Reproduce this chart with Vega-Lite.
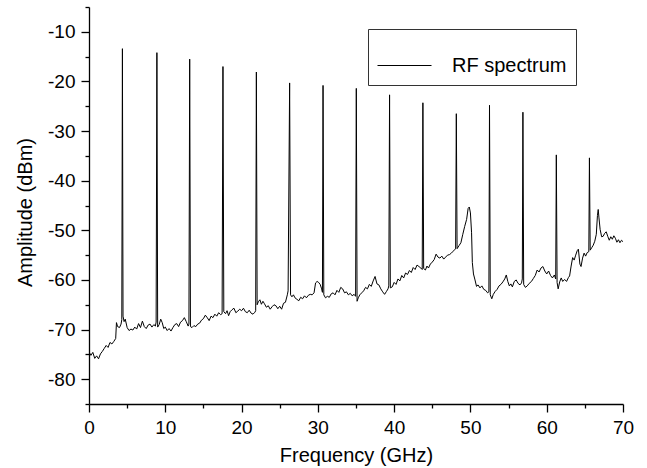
{
  "$schema": "https://vega.github.io/schema/vega-lite/v6.json",
  "width": 534,
  "height": 397,
  "autosize": {"type": "none"},
  "padding": {"left": 89, "top": 7, "right": 24, "bottom": 64},
  "background": "white",
  "config": {
    "view": {"stroke": null},
    "font": "Liberation Sans",
    "axis": {
      "domainColor": "#000",
      "domainWidth": 1.3,
      "tickColor": "#000",
      "tickWidth": 1.3,
      "labelColor": "#000",
      "titleColor": "#000",
      "labelFont": "Liberation Sans",
      "titleFont": "Liberation Sans",
      "labelFontSize": 19,
      "titleFontSize": 20,
      "titleFontWeight": "normal",
      "grid": false
    }
  },
  "data": {
    "values": [
      {"f": 0.0, "a": -74.5}, {"f": 0.25, "a": -75.2}, {"f": 0.5, "a": -74.6}, {"f": 0.75, "a": -75.8}, {"f": 1.0, "a": -75.3},
      {"f": 1.25, "a": -75.9}, {"f": 1.5, "a": -74.9}, {"f": 1.75, "a": -74.4}, {"f": 2.0, "a": -73.8}, {"f": 2.25, "a": -73.2},
      {"f": 2.5, "a": -73.6}, {"f": 2.75, "a": -72.6}, {"f": 3.0, "a": -72.9}, {"f": 3.25, "a": -72.4}, {"f": 3.5, "a": -71.8},
      {"f": 3.6, "a": -68.6}, {"f": 3.75, "a": -69.4}, {"f": 4.0, "a": -69.6}, {"f": 4.2, "a": -68.9}, {"f": 4.3, "a": -68.0},
      {"f": 4.38, "a": -13.4}, {"f": 4.46, "a": -67.3}, {"f": 4.6, "a": -68.4}, {"f": 4.75, "a": -67.9}, {"f": 5.0, "a": -69.6},
      {"f": 5.25, "a": -70.2}, {"f": 5.5, "a": -69.9}, {"f": 5.75, "a": -70.1}, {"f": 6.0, "a": -69.5}, {"f": 6.25, "a": -69.9},
      {"f": 6.5, "a": -68.8}, {"f": 6.75, "a": -69.6}, {"f": 7.0, "a": -68.3}, {"f": 7.25, "a": -69.4}, {"f": 7.5, "a": -69.8},
      {"f": 7.75, "a": -69.1}, {"f": 8.0, "a": -68.9}, {"f": 8.25, "a": -69.5}, {"f": 8.5, "a": -69.0}, {"f": 8.7, "a": -69.3},
      {"f": 8.8, "a": -68.5}, {"f": 8.9, "a": -14.2}, {"f": 9.0, "a": -69.5}, {"f": 9.2, "a": -69.0}, {"f": 9.4, "a": -67.9},
      {"f": 9.6, "a": -68.6}, {"f": 9.8, "a": -69.8}, {"f": 10.0, "a": -69.5}, {"f": 10.25, "a": -70.2}, {"f": 10.5, "a": -69.8},
      {"f": 10.75, "a": -70.3}, {"f": 11.0, "a": -69.6}, {"f": 11.25, "a": -69.0}, {"f": 11.5, "a": -68.8}, {"f": 11.75, "a": -69.4},
      {"f": 12.0, "a": -68.5}, {"f": 12.25, "a": -68.2}, {"f": 12.5, "a": -67.6}, {"f": 12.75, "a": -68.4}, {"f": 13.0, "a": -69.3},
      {"f": 13.1, "a": -68.9}, {"f": 13.2, "a": -15.5}, {"f": 13.3, "a": -69.4}, {"f": 13.5, "a": -69.6}, {"f": 13.75, "a": -69.2},
      {"f": 14.0, "a": -69.4}, {"f": 14.25, "a": -68.9}, {"f": 14.5, "a": -68.7}, {"f": 14.75, "a": -68.1}, {"f": 15.0, "a": -67.8},
      {"f": 15.25, "a": -67.1}, {"f": 15.5, "a": -67.6}, {"f": 15.75, "a": -68.2}, {"f": 16.0, "a": -67.3}, {"f": 16.25, "a": -67.6},
      {"f": 16.5, "a": -66.9}, {"f": 16.75, "a": -67.3}, {"f": 17.0, "a": -66.6}, {"f": 17.25, "a": -67.0}, {"f": 17.45, "a": -66.8},
      {"f": 17.56, "a": -17.0}, {"f": 17.67, "a": -66.4}, {"f": 17.9, "a": -66.8}, {"f": 18.1, "a": -66.2}, {"f": 18.3, "a": -67.2},
      {"f": 18.5, "a": -66.4}, {"f": 18.75, "a": -66.0}, {"f": 19.0, "a": -65.7}, {"f": 19.25, "a": -66.6}, {"f": 19.5, "a": -66.3},
      {"f": 19.75, "a": -65.9}, {"f": 20.0, "a": -66.2}, {"f": 20.25, "a": -65.7}, {"f": 20.5, "a": -66.4}, {"f": 20.75, "a": -66.6},
      {"f": 21.0, "a": -66.1}, {"f": 21.25, "a": -66.7}, {"f": 21.5, "a": -66.9}, {"f": 21.75, "a": -66.5}, {"f": 21.85, "a": -66.2},
      {"f": 21.94, "a": -18.1}, {"f": 22.04, "a": -65.0}, {"f": 22.2, "a": -64.4}, {"f": 22.4, "a": -64.0}, {"f": 22.6, "a": -64.9},
      {"f": 22.8, "a": -64.3}, {"f": 23.0, "a": -64.8}, {"f": 23.25, "a": -65.5}, {"f": 23.5, "a": -65.2}, {"f": 23.75, "a": -65.9},
      {"f": 24.0, "a": -65.4}, {"f": 24.25, "a": -65.0}, {"f": 24.5, "a": -65.2}, {"f": 24.75, "a": -65.8}, {"f": 25.0, "a": -65.3},
      {"f": 25.25, "a": -65.9}, {"f": 25.5, "a": -64.7}, {"f": 25.75, "a": -64.5}, {"f": 26.0, "a": -63.0}, {"f": 26.1, "a": -62.2},
      {"f": 26.3, "a": -20.3}, {"f": 26.42, "a": -63.0}, {"f": 26.6, "a": -63.4}, {"f": 26.8, "a": -63.0}, {"f": 27.0, "a": -63.6},
      {"f": 27.25, "a": -63.9}, {"f": 27.5, "a": -64.2}, {"f": 27.75, "a": -63.5}, {"f": 28.0, "a": -63.8}, {"f": 28.25, "a": -63.2},
      {"f": 28.5, "a": -63.6}, {"f": 28.75, "a": -63.1}, {"f": 29.0, "a": -62.9}, {"f": 29.25, "a": -63.0}, {"f": 29.5, "a": -62.6},
      {"f": 29.7, "a": -60.6}, {"f": 29.9, "a": -60.3}, {"f": 30.1, "a": -60.5}, {"f": 30.3, "a": -60.9}, {"f": 30.5, "a": -61.8},
      {"f": 30.6, "a": -62.5}, {"f": 30.68, "a": -20.8}, {"f": 30.78, "a": -63.0}, {"f": 31.0, "a": -63.6}, {"f": 31.25, "a": -63.3},
      {"f": 31.5, "a": -63.5}, {"f": 31.75, "a": -62.8}, {"f": 32.0, "a": -62.6}, {"f": 32.25, "a": -63.0}, {"f": 32.5, "a": -62.1},
      {"f": 32.75, "a": -62.5}, {"f": 33.0, "a": -61.5}, {"f": 33.25, "a": -61.8}, {"f": 33.5, "a": -62.6}, {"f": 33.75, "a": -62.4},
      {"f": 34.0, "a": -63.0}, {"f": 34.25, "a": -62.7}, {"f": 34.5, "a": -63.2}, {"f": 34.75, "a": -62.9}, {"f": 34.95, "a": -63.3},
      {"f": 35.04, "a": -21.4}, {"f": 35.14, "a": -64.3}, {"f": 35.3, "a": -63.6}, {"f": 35.5, "a": -63.0}, {"f": 35.75, "a": -62.6},
      {"f": 36.0, "a": -62.2}, {"f": 36.25, "a": -61.5}, {"f": 36.5, "a": -61.8}, {"f": 36.75, "a": -60.9}, {"f": 37.0, "a": -61.3},
      {"f": 37.25, "a": -60.2}, {"f": 37.5, "a": -59.3}, {"f": 37.75, "a": -60.8}, {"f": 38.0, "a": -61.0}, {"f": 38.25, "a": -61.8},
      {"f": 38.5, "a": -62.4}, {"f": 38.75, "a": -62.9}, {"f": 39.0, "a": -62.3}, {"f": 39.2, "a": -61.8}, {"f": 39.3, "a": -61.2},
      {"f": 39.4, "a": -22.7}, {"f": 39.5, "a": -61.6}, {"f": 39.75, "a": -61.4}, {"f": 40.0, "a": -60.5}, {"f": 40.25, "a": -60.9},
      {"f": 40.5, "a": -59.8}, {"f": 40.75, "a": -60.2}, {"f": 41.0, "a": -59.1}, {"f": 41.25, "a": -59.6}, {"f": 41.5, "a": -58.6},
      {"f": 41.75, "a": -58.9}, {"f": 42.0, "a": -58.1}, {"f": 42.25, "a": -58.5}, {"f": 42.5, "a": -57.5}, {"f": 42.75, "a": -57.9},
      {"f": 43.0, "a": -57.0}, {"f": 43.25, "a": -57.3}, {"f": 43.5, "a": -57.6}, {"f": 43.68, "a": -57.9}, {"f": 43.77, "a": -24.3},
      {"f": 43.87, "a": -57.7}, {"f": 44.1, "a": -58.0}, {"f": 44.3, "a": -57.2}, {"f": 44.5, "a": -57.6}, {"f": 44.75, "a": -56.8},
      {"f": 45.0, "a": -56.4}, {"f": 45.25, "a": -55.9}, {"f": 45.5, "a": -54.8}, {"f": 45.75, "a": -55.4}, {"f": 46.0, "a": -55.6},
      {"f": 46.25, "a": -55.2}, {"f": 46.5, "a": -55.8}, {"f": 46.75, "a": -55.4}, {"f": 47.0, "a": -55.0}, {"f": 47.25, "a": -54.9},
      {"f": 47.5, "a": -54.6}, {"f": 47.75, "a": -54.2}, {"f": 48.0, "a": -53.8}, {"f": 48.06, "a": -53.6}, {"f": 48.15, "a": -26.5},
      {"f": 48.25, "a": -53.7}, {"f": 48.5, "a": -53.1}, {"f": 48.75, "a": -52.5}, {"f": 49.0, "a": -50.8}, {"f": 49.25, "a": -49.2},
      {"f": 49.5, "a": -47.8}, {"f": 49.7, "a": -45.6}, {"f": 49.85, "a": -45.3}, {"f": 50.0, "a": -46.5}, {"f": 50.15, "a": -50.5},
      {"f": 50.25, "a": -56.5}, {"f": 50.4, "a": -58.8}, {"f": 50.6, "a": -60.0}, {"f": 50.8, "a": -61.3}, {"f": 51.0, "a": -61.0},
      {"f": 51.25, "a": -61.6}, {"f": 51.5, "a": -61.2}, {"f": 51.75, "a": -61.9}, {"f": 52.0, "a": -62.1}, {"f": 52.25, "a": -62.6},
      {"f": 52.42, "a": -62.4}, {"f": 52.5, "a": -24.8}, {"f": 52.6, "a": -63.0}, {"f": 52.8, "a": -63.8}, {"f": 53.0, "a": -62.9},
      {"f": 53.25, "a": -62.3}, {"f": 53.5, "a": -61.9}, {"f": 53.75, "a": -61.2}, {"f": 54.0, "a": -60.9}, {"f": 54.25, "a": -60.4},
      {"f": 54.5, "a": -59.8}, {"f": 54.7, "a": -59.0}, {"f": 54.9, "a": -60.3}, {"f": 55.1, "a": -61.2}, {"f": 55.3, "a": -60.8},
      {"f": 55.5, "a": -61.4}, {"f": 55.75, "a": -60.3}, {"f": 56.0, "a": -60.0}, {"f": 56.25, "a": -60.7}, {"f": 56.5, "a": -61.0},
      {"f": 56.7, "a": -60.6}, {"f": 56.8, "a": -59.8}, {"f": 56.88, "a": -26.2}, {"f": 56.98, "a": -60.9}, {"f": 57.2, "a": -61.5},
      {"f": 57.45, "a": -61.2}, {"f": 57.7, "a": -60.7}, {"f": 58.0, "a": -60.3}, {"f": 58.25, "a": -59.7}, {"f": 58.5, "a": -59.1},
      {"f": 58.75, "a": -58.0}, {"f": 59.0, "a": -58.4}, {"f": 59.25, "a": -57.6}, {"f": 59.5, "a": -57.3}, {"f": 59.75, "a": -58.2},
      {"f": 60.0, "a": -58.8}, {"f": 60.25, "a": -58.2}, {"f": 60.5, "a": -59.1}, {"f": 60.75, "a": -59.6}, {"f": 61.0, "a": -59.0},
      {"f": 61.18, "a": -59.8}, {"f": 61.26, "a": -34.8}, {"f": 61.36, "a": -60.5}, {"f": 61.5, "a": -61.8}, {"f": 61.7, "a": -60.4},
      {"f": 61.9, "a": -59.6}, {"f": 62.1, "a": -60.3}, {"f": 62.35, "a": -59.9}, {"f": 62.6, "a": -60.3}, {"f": 62.85, "a": -59.5},
      {"f": 63.0, "a": -59.2}, {"f": 63.2, "a": -57.2}, {"f": 63.4, "a": -55.5}, {"f": 63.6, "a": -56.0}, {"f": 63.8, "a": -55.0},
      {"f": 64.0, "a": -54.1}, {"f": 64.15, "a": -53.8}, {"f": 64.35, "a": -56.8}, {"f": 64.5, "a": -57.3}, {"f": 64.7, "a": -55.6},
      {"f": 64.9, "a": -54.6}, {"f": 65.1, "a": -55.2}, {"f": 65.3, "a": -54.5}, {"f": 65.52, "a": -54.3}, {"f": 65.6, "a": -35.4},
      {"f": 65.7, "a": -54.0}, {"f": 65.9, "a": -53.5}, {"f": 66.1, "a": -53.0}, {"f": 66.3, "a": -52.2}, {"f": 66.5, "a": -50.8},
      {"f": 66.65, "a": -47.0}, {"f": 66.75, "a": -45.8}, {"f": 66.85, "a": -47.5}, {"f": 67.0, "a": -49.8}, {"f": 67.2, "a": -51.3},
      {"f": 67.4, "a": -51.2}, {"f": 67.6, "a": -50.6}, {"f": 67.8, "a": -50.3}, {"f": 68.0, "a": -51.2}, {"f": 68.2, "a": -52.0},
      {"f": 68.4, "a": -51.3}, {"f": 68.6, "a": -51.8}, {"f": 68.8, "a": -51.1}, {"f": 69.0, "a": -51.6}, {"f": 69.2, "a": -52.4},
      {"f": 69.4, "a": -51.9}, {"f": 69.6, "a": -52.5}, {"f": 69.8, "a": -52.0}, {"f": 70.0, "a": -52.3}
    ]
  },
  "mark": {"type": "line", "strokeWidth": 1, "clip": true},
  "encoding": {
    "x": {
      "field": "f",
      "type": "quantitative",
      "scale": {"domain": [0, 70], "nice": false, "zero": false},
      "axis": {
        "title": "Frequency (GHz)",
        "values": [0, 5, 10, 15, 20, 25, 30, 35, 40, 45, 50, 55, 60, 65, 70],
        "labelExpr": "datum.value % 10 === 0 ? '' + datum.value : ''",
        "tickSize": {"condition": {"test": "datum.value % 10 === 0", "value": 8}, "value": 4},
        "labelFlush": false,
        "labelOverlap": false,
        "labelPadding": 6,
        "titlePadding": 8
      }
    },
    "y": {
      "field": "a",
      "type": "quantitative",
      "scale": {"domain": [-85, -5], "nice": false, "zero": false},
      "axis": {
        "title": "Amplitude (dBm)",
        "values": [-85, -80, -75, -70, -65, -60, -55, -50, -45, -40, -35, -30, -25, -20, -15, -10, -5],
        "labelExpr": "datum.value % 10 === 0 ? '' + datum.value : ''",
        "tickSize": {"condition": {"test": "datum.value % 10 === 0", "value": 8}, "value": 4},
        "labelFlush": false,
        "labelOverlap": false,
        "labelPadding": 6,
        "titleX": -54,
        "titleY": 205
      }
    },
    "color": {
      "datum": "RF spectrum",
      "type": "nominal",
      "scale": {"range": ["#000000"]},
      "legend": {
        "title": null,
        "orient": "none",
        "legendX": 279,
        "legendY": 22,
        "strokeColor": "#333333",
        "fillColor": "#ffffff",
        "padding": 9,
        "symbolType": "stroke",
        "symbolSize": 2916,
        "symbolStrokeWidth": 1,
        "labelFontSize": 20,
        "labelFont": "Liberation Sans",
        "labelColor": "#000",
        "labelOffset": 20,
        "labelExpr": "datum.label + '\u2002'"
      }
    }
  }
}
